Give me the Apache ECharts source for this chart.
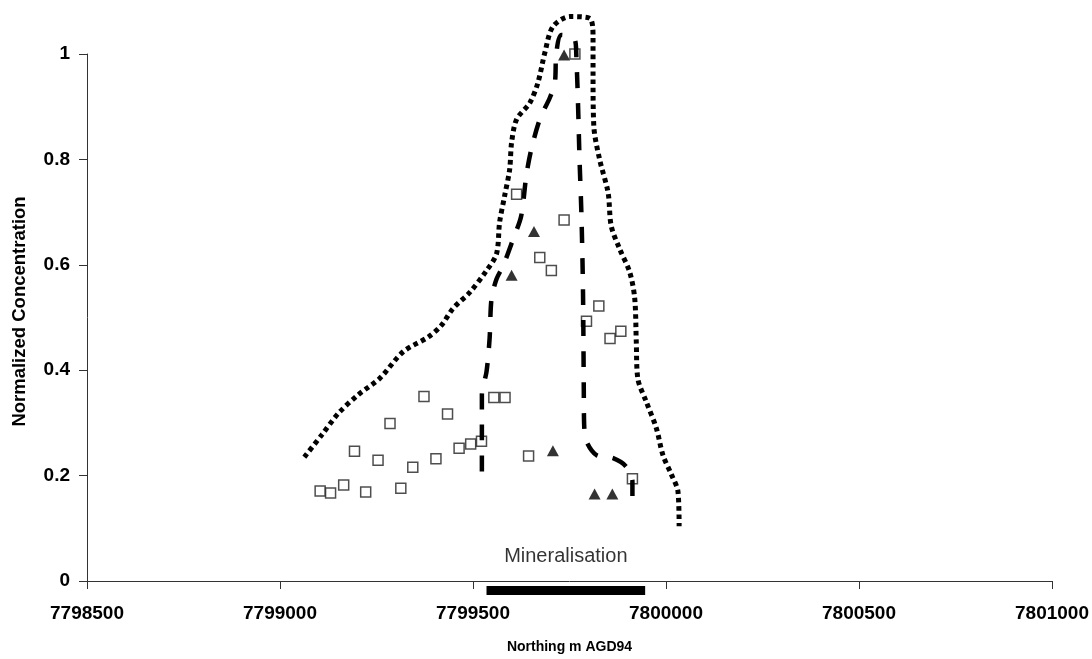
<!DOCTYPE html>
<html>
<head>
<meta charset="utf-8">
<script src="https://cdn.jsdelivr.net/npm/echarts@6/dist/echarts.min.js"></script>
<style>
html,body{margin:0;padding:0;background:#fff;}
#chart{width:1092px;height:659px;}
</style>
</head>
<body>
<div id="chart"></div>
<script>
// ---- Data ----
const xTicks = [7798500, 7799000, 7799500, 7800000, 7800500, 7801000];
const yTicks = [0, 0.2, 0.4, 0.6, 0.8, 1];

// Open squares
const squareX = [7799104,7799131,7799165,7799193,7799222,7799254,7799285,7799313,7799344,7799373,
                 7799404,7799434,7799464,7799494,7799522,7799554,7799583,7799613,7799644,7799673,
                 7799703,7799736,7799764,7799794,7799826,7799855,7799883,7799913];
const squareY = [0.171,0.167,0.182,0.246,0.169,0.229,0.299,0.176,0.216,0.350,
                 0.232,0.317,0.252,0.260,0.265,0.348,0.348,0.734,0.237,0.614,
                 0.589,0.685,1.000,0.493,0.522,0.460,0.474,0.194];

// Filled triangles
const triX = [7799600,7799658,7799707,7799736,7799815,7799861];
const triY = [0.580,0.663,0.247,0.998,0.165,0.165];

// Outer (dotted) envelope
const outerX = [7799063,7799108,7799151,7799202,7799259,7799319,7799384,7799418,7799448,7799492,
                7799535,7799561,7799569,7799582,7799595,7799600,7799613,7799647,7799668,7799686,
                7799707,7799751,7799802,7799811,7799811,7799813,7799828,7799850,7799858,7799880,
                7799906,7799919,7799923,7799927,7799949,7799975,7799992,7800014,7800031,7800034];
const outerY = [0.235,0.277,0.318,0.353,0.385,0.435,0.463,0.485,0.517,0.548,
                0.589,0.621,0.681,0.731,0.781,0.832,0.876,0.907,0.945,1.002,
                1.052,1.071,1.068,1.033,0.958,0.863,0.800,0.737,0.674,0.630,
                0.586,0.536,0.454,0.384,0.340,0.290,0.239,0.202,0.170,0.104];

// Inner (dashed) envelope
const innerX = [7799523,7799523,7799523,7799535,7799543,7799548,7799561,7799578,7799604,7799625,
                7799638,7799651,7799673,7799699,7799712,7799716,7799729,7799764,7799768,7799772,
                7799776,7799781,7799785,7799787,7799788,7799794,7799820,7799863,7799897,7799913,7799913];
const innerY = [0.208,0.296,0.353,0.397,0.460,0.536,0.573,0.598,0.649,0.693,
                0.769,0.819,0.876,0.917,0.945,1.002,1.036,1.027,0.989,0.907,
                0.800,0.693,0.548,0.365,0.296,0.265,0.239,0.233,0.217,0.189,0.161];

// Mineralisation extent (northing) and its marker level below the axis
const mineralX = [7799535, 7799946];
const mineralLevel = -0.018;
const mineralText = 'Mineralisation';

const zip = (a, b) => a.map((v, i) => [v, b[i]]);

const chart = echarts.init(document.getElementById('chart'), null, {renderer: 'canvas'});
const font = "'Liberation Sans', Arial, sans-serif";
chart.setOption({
  animation: false,
  backgroundColor: '#ffffff',
  grid: {left: 87, right: 40, top: 54, bottom: 76, containLabel: false},
  xAxis: {
    type: 'value',
    min: xTicks[0], max: xTicks[xTicks.length - 1], interval: 500,
    name: 'Northing m AGD94', nameLocation: 'middle', nameGap: 59,
    nameTextStyle: {fontFamily: font, fontWeight: 'bold', fontSize: 14, color: '#000'},
    axisLine: {lineStyle: {color: '#333', width: 1}},
    axisTick: {show: true, inside: false, length: 8, lineStyle: {color: '#333'}},
    axisLabel: {fontFamily: font, fontWeight: 'bold', fontSize: 19, color: '#000', margin: 23,
                formatter: v => String(v)},
    splitLine: {show: false}
  },
  yAxis: {
    type: 'value',
    min: yTicks[0], max: yTicks[yTicks.length - 1], interval: 0.2,
    name: 'Normalized Concentration', nameLocation: 'middle', nameGap: 58, nameRotate: 90,
    nameTextStyle: {fontFamily: font, fontWeight: 'bold', fontSize: 18.5, color: '#000',
                    padding: [0, 0, 0, 12]},
    axisLine: {show: true, lineStyle: {color: '#333', width: 1}},
    axisTick: {show: true, inside: false, length: 8, lineStyle: {color: '#333'}},
    axisLabel: {fontFamily: font, fontWeight: 'bold', fontSize: 19, color: '#000', margin: 17},
    splitLine: {show: false}
  },
  series: [
    {
      type: 'scatter', name: 'squares', data: zip(squareX, squareY),
      symbol: 'rect', symbolSize: 10,
      itemStyle: {color: '#fff', borderColor: '#222', borderWidth: 1.5},
      z: 2
    },
    {
      type: 'scatter', name: 'triangles', data: zip(triX, triY),
      symbol: 'triangle', symbolSize: [12, 11],
      itemStyle: {color: '#000'},
      z: 2
    },
    {
      type: 'line', name: 'outer', data: zip(outerX, outerY),
      showSymbol: false, symbol: 'none', smooth: 0.3, clip: false,
      lineStyle: {color: '#000', width: 5, type: [4.5, 3.8], cap: 'butt'},
      z: 3
    },
    {
      type: 'line', name: 'inner', data: zip(innerX, innerY),
      showSymbol: false, symbol: 'none', smooth: 0.3, clip: false,
      lineStyle: {color: '#000', width: 4.5, type: [16, 15], cap: 'butt'},
      z: 3
    },
    {
      type: 'line', name: 'mineralisation',
      data: mineralX.map(x => [x, mineralLevel]),
      showSymbol: false, symbol: 'none', clip: false,
      lineStyle: {color: '#000', width: 9, cap: 'butt'},
      z: 4
    },
    {
      type: 'scatter', name: 'mineralLabel',
      data: [[(mineralX[0] + mineralX[1]) / 2, mineralLevel]],
      symbolSize: 0, clip: false, silent: true,
      label: {show: true, position: 'inside', offset: [0, -34], formatter: mineralText,
              fontFamily: font, fontSize: 20, color: '#000'},
      z: 4
    }
  ]
});
</script>
</body>
</html>
